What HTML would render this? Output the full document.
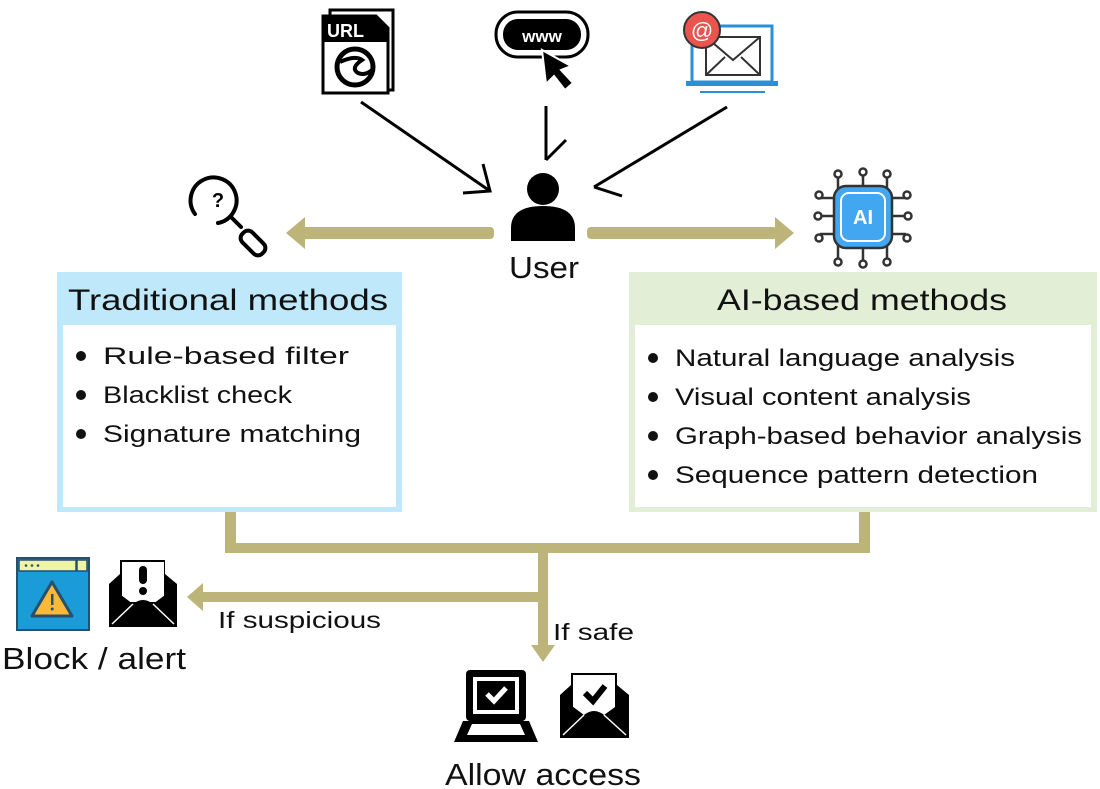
<!DOCTYPE html>
<html><head><meta charset="utf-8"><style>
html,body{margin:0;padding:0;background:#fff;}
svg{display:block;font-family:"Liberation Sans","DejaVu Sans",sans-serif;}
</style></head><body>
<svg width="1100" height="789" viewBox="0 0 1100 789" xmlns="http://www.w3.org/2000/svg">
<!-- URL doc -->
<g>
<rect x="330" y="10" width="63" height="80" fill="#fff" stroke="#000" stroke-width="3"/>
<path d="M323 16 H376 L388 28 V93 H323 Z" fill="#fff" stroke="#000" stroke-width="3"/>
<path d="M323 16 H376 L388 28 V42 H323 Z" fill="#000"/>
<text x="327" y="37" font-size="18" font-weight="bold" fill="#fff">URL</text>
<circle cx="355" cy="67" r="18" fill="#fff" stroke="#000" stroke-width="5"/>
<path d="M340 62 Q355 55 362 60 Q350 68 358 73 Q365 76 372 70" fill="none" stroke="#000" stroke-width="4"/>
</g>
<!-- www -->
<g>
<rect x="496" y="12" width="92" height="45" rx="22" fill="#fff" stroke="#000" stroke-width="3"/>
<rect x="503" y="19" width="78" height="31" rx="15" fill="#000"/>
<text x="542" y="42" font-size="17" font-weight="bold" fill="#fff" text-anchor="middle">www</text>
<path d="M542 50 L546 84 L554 76 L565 90 L573 83 L561 70 L571 66 Z" fill="#000" stroke="#fff" stroke-width="2"/>
</g>
<!-- email laptop -->
<g>
<rect x="692" y="26" width="80" height="56" fill="#fff" stroke="#2b8fd6" stroke-width="3"/>
<rect x="706" y="37" width="54" height="38" fill="#fff" stroke="#333" stroke-width="2"/>
<path d="M706 37 L733 60 L760 37 M706 75 L725 57 M760 75 L741 57" fill="none" stroke="#333" stroke-width="2"/>
<rect x="686" y="81" width="92" height="5" fill="#2b8fd6"/>
<line x1="700" y1="92" x2="765" y2="92" stroke="#2b8fd6" stroke-width="2"/>
<circle cx="702" cy="30" r="18" fill="#e8554e" stroke="#333" stroke-width="2"/>
<text x="702" y="38" font-size="22" fill="#fff" text-anchor="middle">@</text>
</g>
<!-- thin arrows to user -->
<g stroke="#000" stroke-width="3" fill="none">
<line x1="361" y1="102" x2="490" y2="191"/>
<polyline points="483,164 490,191 463,193"/>
<line x1="546" y1="106" x2="546" y2="160"/>
<polyline points="566,140 546,160"/>
<line x1="727" y1="107" x2="594" y2="187"/>
<polyline points="622,196 594,187"/>
</g>
<!-- user -->
<circle cx="543" cy="189" r="16" fill="#000"/>
<path d="M511 241 V228 Q511 206 543 206 Q575 206 575 228 V241 Z" fill="#000"/>
<text x="509" y="278" font-size="31" textLength="70" lengthAdjust="spacingAndGlyphs" fill="#111">User</text>
<!-- olive arrows -->
<g fill="#bdb47a">
<rect x="300" y="227" width="194" height="12" rx="4"/>
<polygon points="286,233 305,217 305,249"/>
<rect x="587" y="227" width="190" height="12" rx="4"/>
<polygon points="794,233 775,217 775,249"/>
</g>
<!-- magnifier -->
<g fill="none" stroke="#000" stroke-width="4" stroke-linecap="round">
<path d="M195 214 A23 23 0 1 1 218 223"/>
<path d="M231 217 L241 227"/>
<rect x="246" y="229" width="14" height="28" rx="6" transform="rotate(-45 253 243)"/>
</g>
<text x="218" y="207" font-size="20" font-weight="bold" text-anchor="middle">?</text>
<!-- AI chip -->
<g stroke="#333" stroke-width="2.5" fill="#fff">
<path d="M838 191 V178 M863 191 V174 M887 191 V178 M838 245 V258 M863 245 V262 M887 245 V258 M836 198 H820 M836 216 H820 M836 234 H820 M890 198 H906 M890 216 H906 M890 234 H906" fill="none"/>
<circle cx="838" cy="174" r="3.5"/><circle cx="863" cy="172" r="3.5"/><circle cx="887" cy="174" r="3.5"/>
<circle cx="838" cy="262" r="3.5"/><circle cx="863" cy="264" r="3.5"/><circle cx="887" cy="262" r="3.5"/>
<circle cx="819" cy="195" r="3.5"/><circle cx="818" cy="216" r="3.5"/><circle cx="819" cy="238" r="3.5"/>
<circle cx="907" cy="195" r="3.5"/><circle cx="908" cy="216" r="3.5"/><circle cx="907" cy="238" r="3.5"/>
<rect x="834" y="186" width="58" height="62" rx="12" fill="#42a6f0"/>
<rect x="841" y="193" width="44" height="48" rx="8" fill="none" stroke="#fff" stroke-width="2"/>
</g>
<text x="863" y="224" font-size="20" font-weight="bold" fill="#fff" text-anchor="middle">AI</text>
<!-- traditional box -->
<rect x="57" y="272" width="345" height="240" fill="#bfe9fb"/>
<rect x="63" y="325" width="333" height="182" fill="#fff"/>
<text x="68" y="310" font-size="30" textLength="320" lengthAdjust="spacingAndGlyphs" fill="#111">Traditional methods</text>
<g font-size="24" fill="#111" lengthAdjust="spacingAndGlyphs">
<circle cx="81" cy="356" r="5"/><text x="103" y="364" textLength="246" lengthAdjust="spacingAndGlyphs">Rule-based filter</text>
<circle cx="81" cy="395" r="5"/><text x="103" y="403" textLength="189" lengthAdjust="spacingAndGlyphs">Blacklist check</text>
<circle cx="81" cy="434" r="5"/><text x="103" y="442" textLength="258" lengthAdjust="spacingAndGlyphs">Signature matching</text>
</g>
<!-- AI box -->
<rect x="629" y="272" width="468" height="240" fill="#e2efd6"/>
<rect x="635" y="325" width="456" height="182" fill="#fff"/>
<text x="717" y="310" font-size="30" textLength="290" lengthAdjust="spacingAndGlyphs" fill="#111">AI-based methods</text>
<g font-size="24" fill="#111">
<circle cx="653" cy="358" r="5"/><text x="675" y="366" textLength="340" lengthAdjust="spacingAndGlyphs">Natural language analysis</text>
<circle cx="653" cy="397" r="5"/><text x="675" y="405" textLength="296" lengthAdjust="spacingAndGlyphs">Visual content analysis</text>
<circle cx="653" cy="436" r="5"/><text x="675" y="444" textLength="407" lengthAdjust="spacingAndGlyphs">Graph-based behavior analysis</text>
<circle cx="653" cy="475" r="5"/><text x="675" y="483" textLength="363" lengthAdjust="spacingAndGlyphs">Sequence pattern detection</text>
</g>
<!-- bracket -->
<g fill="#bdb47a">
<rect x="225" y="512" width="11" height="41"/>
<rect x="859" y="512" width="11" height="41"/>
<rect x="225" y="543" width="645" height="10"/>
<rect x="538" y="548" width="10" height="100"/>
<polygon points="531,645 555,645 543,662"/>
<rect x="200" y="592" width="343" height="10"/>
<polygon points="187,597 203,583 203,611"/>
</g>
<text x="218" y="628" font-size="23" textLength="163" lengthAdjust="spacingAndGlyphs" fill="#111">If suspicious</text>
<text x="553" y="640" font-size="23" textLength="81" lengthAdjust="spacingAndGlyphs" fill="#111">If safe</text>
<!-- block icons -->
<rect x="17" y="558" width="72" height="72" fill="#1b9bd7" stroke="#26506b" stroke-width="2"/>
<rect x="19" y="560" width="57" height="11" fill="#eef3a6" stroke="#26506b" stroke-width="1.5"/>
<rect x="77" y="560" width="10" height="11" fill="#eef3a6" stroke="#26506b" stroke-width="1.5"/>
<circle cx="26" cy="565.5" r="1.3" fill="#26506b"/><circle cx="32" cy="565.5" r="1.3" fill="#26506b"/><circle cx="38" cy="565.5" r="1.3" fill="#26506b"/>
<polygon points="52,582 72,616 32,616" fill="#fbb93a" stroke="#26506b" stroke-width="3" stroke-linejoin="round"/>
<rect x="51" y="594" width="2.5" height="11" fill="#26506b"/><circle cx="52.2" cy="609" r="1.5" fill="#26506b"/>
<path d="M109 584 L120 574 V560 H165 V574 L177 584 V622 a5 5 0 0 1 -5 5 H114 a5 5 0 0 1 -5 -5 Z" fill="#000"/>
<rect x="122" y="562" width="42" height="40" fill="#fff"/>
<path d="M109 586 L133 604 Q143 596 153 604 L177 586 V627 H109 Z" fill="#000"/>
<path d="M112 624 L133 604 M174 624 L153 604" stroke="#fff" stroke-width="1.5"/>
<rect x="139" y="566" width="8" height="18" rx="4" fill="#000"/><circle cx="143" cy="591" r="4" fill="#000"/>
<text x="2" y="669" font-size="31" textLength="184" lengthAdjust="spacingAndGlyphs" fill="#111">Block / alert</text>
<!-- allow icons -->
<rect x="466" y="670" width="60" height="51" rx="4" fill="#000"/>
<rect x="473" y="677" width="46" height="37" fill="#fff"/>
<rect x="477" y="681" width="38" height="29" fill="#000"/>
<path d="M487 694 L494 701 L506 688" fill="none" stroke="#fff" stroke-width="5"/>
<path d="M463 721 H529 L538 742 H454 Z" fill="#000"/>
<path d="M472 724 H520 L525 735 H467 Z" fill="#fff"/>
<path d="M560 695 L571 685 V673 H617 V685 L629 695 V733 a5 5 0 0 1 -5 5 H565 a5 5 0 0 1 -5 -5 Z" fill="#000"/>
<rect x="573" y="675" width="42" height="40" fill="#fff"/>
<path d="M585 693 L593 701 L605 686" fill="none" stroke="#000" stroke-width="6"/>
<path d="M560 697 L584 715 Q594 707 604 715 L629 697 V738 H560 Z" fill="#000"/>
<path d="M563 735 L584 715 M626 735 L604 715" stroke="#fff" stroke-width="1.5"/>
<text x="445" y="785" font-size="31" textLength="196" lengthAdjust="spacingAndGlyphs" fill="#111">Allow access</text>
</svg>
</body></html>
